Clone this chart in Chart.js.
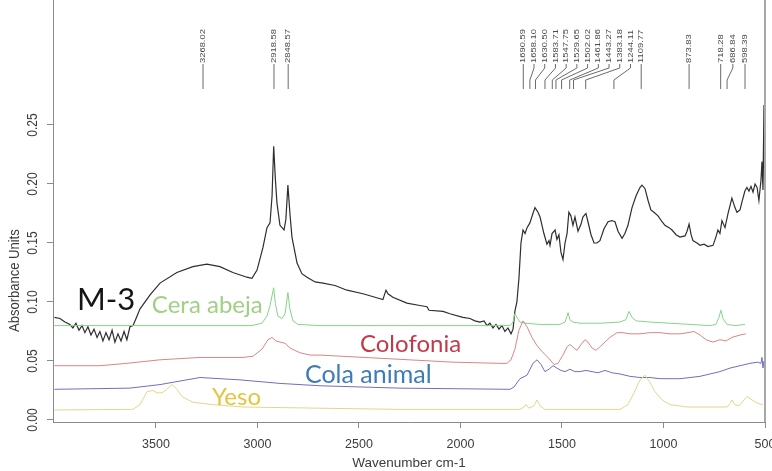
<!DOCTYPE html>
<html>
<head>
<meta charset="utf-8">
<script src="https://cdn.jsdelivr.net/npm/chart.js@4/dist/chart.umd.min.js"></script>
<style>
  html, body { margin: 0; padding: 0; background: #ffffff; }
  #wrap { width: 772px; height: 471px; position: relative; }
  canvas { display: block; }
</style>
</head>
<body>
<div id="wrap"><canvas id="spectra" width="772" height="471"></canvas></div>
<script>
// Axis ticks
const xTickValues = [3500, 3000, 2500, 2000, 1500, 1000, 500];
const yTickValues = [0, 0.05, 0.10, 0.15, 0.20, 0.25];

// Sample M-3
const m3Wavenumber = [4000,3973,3948,3924,3909,3894,3879,3864,3850,3835,3820,3805,3790,3776,3761,3746,3731,3716,3702,3687,3672,3657,3643,3628,3613,3598,3579,3529,3480,3397,3318,3249,3185,3121,3052,3027,3002,2973,2953,2938,2928,2920,2912,2904,2889,2869,2860,2850,2840,2830,2805,2781,2756,2716,2677,2618,2559,2480,2421,2382,2367,2357,2333,2264,2200,2165,2155,2086,2052,1988,1953,1929,1904,1884,1869,1855,1840,1825,1810,1796,1781,1766,1751,1741,1732,1722,1712,1702,1692,1682,1672,1658,1643,1633,1618,1608,1589,1574,1564,1559,1549,1534,1525,1515,1505,1495,1485,1475,1466,1456,1446,1436,1421,1406,1397,1382,1372,1357,1342,1328,1313,1293,1273,1254,1239,1224,1204,1190,1175,1155,1135,1116,1106,1091,1076,1062,1047,1027,1007,993,973,958,938,919,894,884,874,864,855,835,820,800,781,756,742,732,722,712,697,682,663,648,638,623,613,599,589,579,569,559,549,539,530,520,515,510,505,500];
const m3Absorbance = [0.087,0.086,0.083,0.081,0.078,0.082,0.076,0.080,0.074,0.079,0.072,0.077,0.070,0.075,0.067,0.074,0.068,0.076,0.066,0.073,0.067,0.075,0.068,0.079,0.080,0.086,0.094,0.106,0.116,0.125,0.130,0.132,0.130,0.125,0.121,0.120,0.127,0.146,0.163,0.167,0.190,0.232,0.205,0.184,0.165,0.161,0.170,0.199,0.175,0.155,0.133,0.124,0.121,0.117,0.116,0.114,0.110,0.107,0.104,0.102,0.110,0.107,0.104,0.099,0.097,0.096,0.093,0.092,0.090,0.087,0.086,0.084,0.083,0.084,0.080,0.082,0.078,0.081,0.077,0.080,0.075,0.078,0.073,0.077,0.092,0.100,0.120,0.150,0.161,0.158,0.163,0.167,0.175,0.180,0.176,0.172,0.158,0.149,0.152,0.148,0.158,0.161,0.153,0.157,0.142,0.136,0.150,0.158,0.176,0.173,0.165,0.172,0.160,0.166,0.172,0.175,0.168,0.157,0.150,0.150,0.152,0.162,0.168,0.169,0.168,0.160,0.154,0.158,0.165,0.180,0.190,0.197,0.199,0.196,0.186,0.178,0.176,0.173,0.168,0.165,0.163,0.161,0.157,0.155,0.156,0.160,0.166,0.157,0.152,0.150,0.148,0.149,0.147,0.148,0.155,0.161,0.158,0.169,0.163,0.175,0.188,0.180,0.176,0.178,0.185,0.194,0.197,0.194,0.198,0.193,0.200,0.197,0.186,0.203,0.219,0.195,0.267,0.150];

// Reference: beeswax
const ceraWavenumber = [4000,3027,2978,2953,2938,2920,2912,2899,2879,2864,2850,2840,2825,2800,2692,1756,1741,1732,1722,1707,1682,1608,1510,1485,1475,1470,1461,1446,1411,1313,1214,1185,1170,1155,1135,1067,968,869,771,742,727,717,707,687,648,599];
const ceraAbsorbance = [0.080,0.080,0.082,0.088,0.097,0.112,0.099,0.088,0.086,0.090,0.108,0.094,0.084,0.081,0.080,0.080,0.083,0.090,0.087,0.083,0.082,0.081,0.081,0.083,0.088,0.091,0.085,0.083,0.082,0.082,0.083,0.085,0.092,0.087,0.084,0.083,0.082,0.081,0.080,0.081,0.087,0.093,0.086,0.081,0.080,0.081];

// Reference: rosin
const colofoniaWavenumber = [4000,3776,3643,3480,3283,3071,3022,2978,2948,2928,2909,2889,2864,2840,2791,2741,2692,2362,2037,1805,1771,1751,1732,1712,1692,1672,1648,1623,1598,1569,1539,1520,1495,1475,1461,1441,1426,1406,1387,1372,1352,1333,1313,1288,1264,1229,1200,1165,1116,1067,1017,968,919,879,850,820,790,756,722,692,663,623,594];
const colofoniaAbsorbance = [0.046,0.046,0.048,0.051,0.053,0.053,0.054,0.060,0.068,0.070,0.067,0.066,0.065,0.061,0.057,0.055,0.055,0.052,0.049,0.048,0.048,0.051,0.060,0.076,0.084,0.079,0.070,0.063,0.058,0.053,0.047,0.048,0.055,0.062,0.064,0.061,0.059,0.064,0.068,0.066,0.061,0.059,0.062,0.066,0.070,0.074,0.074,0.073,0.073,0.074,0.074,0.073,0.073,0.074,0.075,0.072,0.068,0.066,0.068,0.067,0.070,0.072,0.073];

// Reference: animal glue
const colaWavenumber = [4000,3628,3480,3283,3086,2889,2692,2298,1756,1736,1707,1672,1643,1623,1603,1584,1564,1544,1525,1505,1485,1461,1436,1411,1382,1352,1323,1288,1254,1214,1165,1116,1067,1017,968,919,869,820,771,722,672,623,574,535,520,515,510,505,500];
const colaAbsorbance = [0.026,0.027,0.030,0.036,0.034,0.031,0.029,0.027,0.026,0.028,0.035,0.038,0.048,0.051,0.047,0.041,0.043,0.046,0.044,0.042,0.041,0.043,0.041,0.041,0.042,0.041,0.040,0.042,0.040,0.039,0.037,0.036,0.036,0.035,0.035,0.035,0.036,0.037,0.039,0.041,0.044,0.046,0.048,0.049,0.048,0.053,0.044,0.050,0.045];

// Reference: gypsum
const yesoWavenumber = [4000,3613,3579,3544,3515,3495,3470,3446,3421,3397,3372,3318,3219,3071,2692,2298,1707,1687,1677,1663,1638,1623,1608,1584,1214,1175,1145,1116,1091,1067,1042,1007,968,884,687,672,663,648,628,608,589,564,535,510];
const yesoAbsorbance = [0.0085,0.009,0.013,0.024,0.025,0.023,0.023,0.026,0.030,0.026,0.020,0.015,0.013,0.011,0.010,0.009,0.009,0.011,0.013,0.010,0.012,0.017,0.012,0.009,0.009,0.013,0.023,0.034,0.038,0.032,0.024,0.017,0.013,0.011,0.011,0.014,0.017,0.013,0.012,0.016,0.020,0.017,0.014,0.013];

// Picked peaks of M-3, grouped where their labels are fanned out
const peakGroups = [
  [3268.02],
  [2918.58],
  [2848.57],
  [1690.59, 1658.10, 1630.50, 1583.71, 1547.75, 1529.65, 1502.02, 1461.86, 1443.27, 1383.18, 1244.11, 1109.77],
  [873.83],
  [718.28, 686.84, 598.39]
];

const seriesNames = ['M-3', 'Cera abeja', 'Colofonia', 'Cola animal', 'Yeso'];

function toPoints(xs, ys) {
  return xs.map((w, i) => ({ x: w, y: ys[i] }));
}

const AXIS_GREY = '#8a8a8a';
const TEXT_GREY = '#3c3c3c';

// Axis labels, peak picks and series names drawn on top of the plot
const decorPlugin = {
  id: 'decor',
  afterDatasetsDraw(chart, args, opts) {
    const { ctx, chartArea, scales } = chart;
    const xs = scales.x, ys = scales.y;
    ctx.save();

    // right edge of the frame
    ctx.strokeStyle = '#a8a8a8';
    ctx.lineWidth = 2;
    ctx.beginPath();
    ctx.moveTo(chartArea.right, chartArea.top);
    ctx.lineTo(chartArea.right, chartArea.bottom);
    ctx.stroke();

    // y tick labels, written along the axis
    ctx.fillStyle = TEXT_GREY;
    ctx.font = '12px "Liberation Sans", Arial, sans-serif';
    ctx.textAlign = 'center';
    ctx.textBaseline = 'middle';
    ys.ticks.forEach(t => {
      const py = ys.getPixelForValue(t.value);
      ctx.save();
      ctx.translate(chartArea.left - 20, py);
      ctx.rotate(-Math.PI / 2);
      ctx.scale(1, 1.15);
      ctx.fillText(t.value.toFixed(2), 0, 0);
      ctx.restore();
    });

    // y axis title
    ctx.font = '13px "Liberation Sans", Arial, sans-serif';
    ctx.save();
    ctx.translate(15, chartArea.top + (chartArea.bottom - chartArea.top) * 0.665);
    ctx.rotate(-Math.PI / 2);
    ctx.scale(1, 1.1);
    ctx.fillText(opts.yTitle, 0, 0);
    ctx.restore();

    // peak picks with fanned leader lines
    ctx.strokeStyle = '#6a6a6a';
    ctx.lineWidth = 1;
    ctx.fillStyle = '#4a4a4a';
    ctx.font = '7.5px "Liberation Sans", Arial, sans-serif';
    ctx.textAlign = 'left';
    ctx.textBaseline = 'middle';
    const top = chartArea.top;
    peakGroups.forEach(group => {
      const px = group.map(w => xs.getPixelForValue(w));
      const first = px[0], last = px[px.length - 1];
      group.forEach((w, i) => {
        const lx = group.length > 1 ? first + (last - first) * i / (group.length - 1) : px[i];
        ctx.beginPath();
        ctx.moveTo(lx, top + 64);
        ctx.lineTo(lx, top + 68);
        ctx.lineTo(px[i], top + 80);
        ctx.lineTo(px[i], top + 89);
        ctx.stroke();
        ctx.save();
        ctx.translate(lx, top + 63);
        ctx.rotate(-Math.PI / 2);
        ctx.scale(1.25, 1);
        ctx.fillText(w.toFixed(2), 0, 0);
        ctx.restore();
      });
    });

    // series names
    ctx.textAlign = 'left';
    ctx.textBaseline = 'alphabetic';
    opts.names.forEach(n => {
      ctx.fillStyle = n.color;
      ctx.font = n.size + 'px Lato, "Open Sans", sans-serif';
      ctx.fillText(n.text, xs.getPixelForValue(n.w), ys.getPixelForValue(n.a));
    });

    ctx.restore();
  }
};

const ctx = document.getElementById('spectra').getContext('2d');
new Chart(ctx, {
  type: 'line',
  data: {
    datasets: [
      { label: seriesNames[4], data: toPoints(yesoWavenumber, yesoAbsorbance), borderColor: '#e3d68a', borderWidth: 1 },
      { label: seriesNames[3], data: toPoints(colaWavenumber, colaAbsorbance), borderColor: '#6e6ec2', borderWidth: 1 },
      { label: seriesNames[2], data: toPoints(colofoniaWavenumber, colofoniaAbsorbance), borderColor: '#d98585', borderWidth: 1 },
      { label: seriesNames[1], data: toPoints(ceraWavenumber, ceraAbsorbance), borderColor: '#86d486', borderWidth: 1 },
      { label: seriesNames[0], data: toPoints(m3Wavenumber, m3Absorbance), borderColor: '#2e2e2e', borderWidth: 1.2 }
    ]
  },
  options: {
    responsive: false,
    animation: false,
    events: [],
    layout: { padding: { left: 0, right: 7, top: 0, bottom: 0 } },
    elements: { point: { radius: 0 }, line: { tension: 0 } },
    plugins: {
      legend: { display: false },
      tooltip: { enabled: false },
      decor: {
        yTitle: 'Absorbance Units',
        names: [
          { text: seriesNames[0], w: 3889, a: 0.093, color: '#151515', size: 31 },
          { text: seriesNames[1], w: 3520, a: 0.091, color: '#9fd183', size: 24 },
          { text: seriesNames[2], w: 2495, a: 0.058, color: '#c23a4a', size: 24 },
          { text: seriesNames[3], w: 2766, a: 0.031, color: '#3d7cb6', size: 25 },
          { text: seriesNames[4], w: 3224, a: 0.0127, color: '#e6c440', size: 24 }
        ]
      }
    },
    scales: {
      x: {
        type: 'linear',
        reverse: true,
        min: 500,
        max: 4007,
        afterBuildTicks: s => { s.ticks = xTickValues.map(v => ({ value: v })); },
        afterFit: s => { s.height = 49; s.paddingLeft = 0; s.paddingRight = 0; },
        grid: { drawOnChartArea: false, drawTicks: true, tickLength: 6, color: AXIS_GREY },
        border: { display: true, color: AXIS_GREY, width: 1 },
        ticks: {
          autoSkip: false, maxRotation: 0, minRotation: 0, padding: 9,
          color: TEXT_GREY,
          font: { family: '"Liberation Sans", Arial, sans-serif', size: 12.5 },
          callback: v => String(v)
        },
        title: {
          display: true, text: 'Wavenumber cm-1', color: TEXT_GREY,
          font: { family: '"Liberation Sans", Arial, sans-serif', size: 13.5 },
          padding: { top: 0, bottom: 0 }
        }
      },
      y: {
        type: 'linear',
        min: -0.0017,
        max: 0.3559,
        afterBuildTicks: s => { s.ticks = yTickValues.map(v => ({ value: v })); },
        afterFit: s => { s.width = 53; s.paddingTop = 0; s.paddingBottom = 0; },
        grid: { drawOnChartArea: false, drawTicks: true, tickLength: 6, color: AXIS_GREY },
        border: { display: true, color: AXIS_GREY, width: 1 },
        ticks: { display: false }
      }
    }
  },
  plugins: [decorPlugin]
});
</script>
</body>
</html>
